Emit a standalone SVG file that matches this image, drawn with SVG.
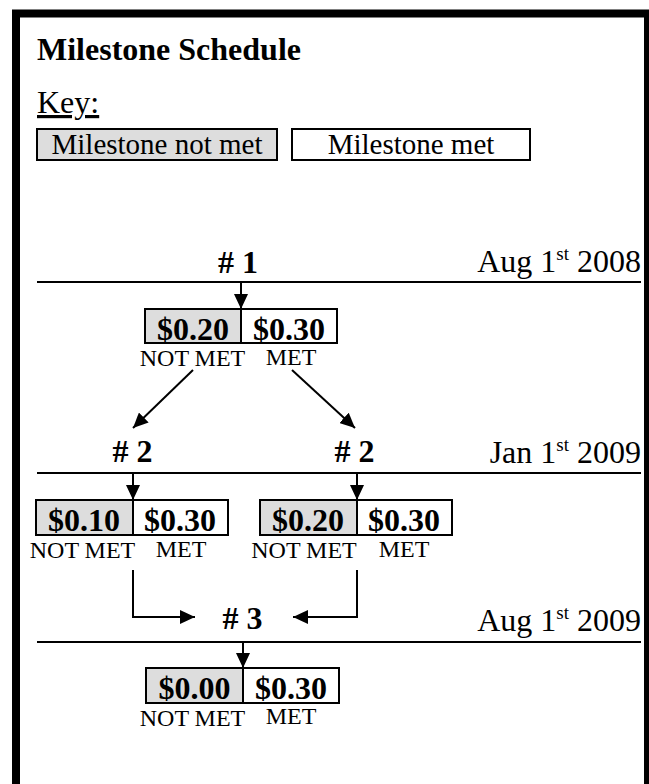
<svg xmlns="http://www.w3.org/2000/svg" width="649" height="784" viewBox="0 0 649 784">
<style>
text{font-family:"Liberation Serif","Times New Roman",serif;fill:#000}
.b{font-weight:bold}
.t32{font-size:32px}
.k{font-size:29px}
.s{font-size:24px}
.m{text-anchor:middle}
.e{text-anchor:end}
.g{fill:#dddddd;stroke:#000;stroke-width:2}
.w{fill:#fff;stroke:#000;stroke-width:2}
.ln{stroke:#000;stroke-width:2;fill:none}
</style>
<defs>
<marker id="ah" markerUnits="userSpaceOnUse" markerWidth="16" markerHeight="14" refX="15" refY="7" orient="auto">
<path d="M0,0 L15,7 L0,14 Z" fill="#000"/>
</marker>
</defs>
<rect x="0" y="0" width="649" height="784" fill="#fff"/>
<rect x="16" y="13.5" width="632" height="800" fill="none" stroke="#000" stroke-width="8"/>

<g id="title">
<text class="b t32" x="37" y="60">Milestone Schedule</text>
</g>
<g id="key">
<text class="t32" x="37" y="113" text-decoration="underline">Key:</text>
<rect class="g" x="37" y="129" width="240" height="31"/>
<text class="k m" x="157" y="154">Milestone not met</text>
<rect class="w" x="292" y="129" width="238" height="31"/>
<text class="k m" x="411" y="154">Milestone met</text>
</g>

<g id="timelines">
<line class="ln" x1="37" y1="282" x2="641" y2="282"/>
<line class="ln" x1="37" y1="473" x2="641" y2="473"/>
<line class="ln" x1="37" y1="642" x2="641" y2="642"/>
<text class="t32 e" x="641" y="272">Aug 1<tspan dy="-12" font-size="19">st</tspan><tspan dy="12"> 2008</tspan></text>
<text class="t32 e" x="641" y="463">Jan 1<tspan dy="-12" font-size="19">st</tspan><tspan dy="12"> 2009</tspan></text>
<text class="t32 e" x="641" y="631">Aug 1<tspan dy="-12" font-size="19">st</tspan><tspan dy="12"> 2009</tspan></text>
</g>

<g id="m1">
<text class="b t32 m" x="238" y="273"># 1</text>
<rect class="g" x="145" y="309" width="96" height="34"/>
<rect class="w" x="241" y="309" width="96" height="34"/>
<text class="b t32 m" x="193" y="340">$0.20</text>
<text class="b t32 m" x="289" y="340">$0.30</text>
<text class="s m" x="192.5" y="366">NOT MET</text>
<text class="s m" x="291" y="365">MET</text>
</g>

<g id="m2a">
<text class="b t32 m" x="132.5" y="462"># 2</text>
<rect class="g" x="36" y="500" width="97" height="35"/>
<rect class="w" x="133" y="500" width="95" height="35"/>
<text class="b t32 m" x="84" y="531">$0.10</text>
<text class="b t32 m" x="180" y="531">$0.30</text>
<text class="s m" x="82.5" y="558">NOT MET</text>
<text class="s m" x="181" y="557">MET</text>
</g>

<g id="m2b">
<text class="b t32 m" x="354.5" y="462"># 2</text>
<rect class="g" x="260" y="500" width="97" height="35"/>
<rect class="w" x="357" y="500" width="95" height="35"/>
<text class="b t32 m" x="308" y="531">$0.20</text>
<text class="b t32 m" x="404" y="531">$0.30</text>
<text class="s m" x="304" y="558">NOT MET</text>
<text class="s m" x="404" y="557">MET</text>
</g>

<g id="m3">
<text class="b t32 m" x="242.5" y="629"># 3</text>
<rect class="g" x="146" y="668" width="97" height="35"/>
<rect class="w" x="243" y="668" width="96" height="35"/>
<text class="b t32 m" x="194.5" y="699">$0.00</text>
<text class="b t32 m" x="291" y="699">$0.30</text>
<text class="s m" x="192.5" y="726">NOT MET</text>
<text class="s m" x="291" y="724">MET</text>
</g>

<g id="connectors">
<line class="ln" x1="241" y1="282" x2="241" y2="309" marker-end="url(#ah)"/>
<line class="ln" x1="193" y1="370" x2="133" y2="428" marker-end="url(#ah)"/>
<line class="ln" x1="292" y1="370" x2="355" y2="428" marker-end="url(#ah)"/>
<line class="ln" x1="133" y1="473" x2="133" y2="500" marker-end="url(#ah)"/>
<line class="ln" x1="357" y1="473" x2="357" y2="500" marker-end="url(#ah)"/>
<polyline class="ln" points="133,570 133,617 195,617" marker-end="url(#ah)"/>
<polyline class="ln" points="357,570 357,617 293,617" marker-end="url(#ah)"/>
<line class="ln" x1="243" y1="642" x2="243" y2="668" marker-end="url(#ah)"/>
</g>
</svg>
